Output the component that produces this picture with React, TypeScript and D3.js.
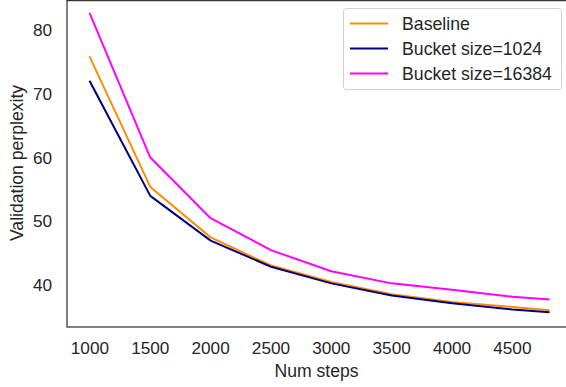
import React from "react";
import * as d3 from "d3";

const steps = [1000, 1500, 2000, 2500, 3000, 3500, 4000, 4500, 4800];
const baseline = [75.7, 55.4, 47.5, 43.1, 40.5, 38.6, 37.4, 36.6, 36.1];
const bucket1024 = [71.9, 54.0, 47.0, 42.9, 40.3, 38.4, 37.2, 36.2, 35.8];
const bucket16384 = [82.5, 60.0, 50.5, 45.5, 42.2, 40.3, 39.3, 38.2, 37.8];
const seriesNames = ["Baseline", "Bucket size=1024", "Bucket size=16384"];
const seriesColors = ["#ff8c00", "#000080", "#ff00ff"];
const xTicks = [1000, 1500, 2000, 2500, 3000, 3500, 4000, 4500];
const yTicks = [40, 50, 60, 70, 80];

const W = 566;
const H = 387;
const FONT = "'Liberation Sans', Arial, sans-serif";
const TXT = "#262626";

export default function App() {
  const left = 67, right = 571.5, top = -1, bottom = 327;
  const allY = [...baseline, ...bucket1024, ...bucket16384];
  const xmin = d3.min(steps)!, xmax = d3.max(steps)!;
  const ymin = d3.min(allY)!, ymax = d3.max(allY)!;
  const xp = (xmax - xmin) * 0.05;
  const yp = (ymax - ymin) * 0.05;
  const x = d3.scaleLinear().domain([xmin - xp, xmax + xp]).range([left, right]);
  const y = d3.scaleLinear().domain([ymin - yp, ymax + yp]).range([bottom, top]);
  const series = [baseline, bucket1024, bucket16384];
  const line = d3
    .line<number>()
    .x((_, i) => x(steps[i]))
    .y((d) => y(d));

  const legX = 343.5, legY = 8.5, legW = 218, legH = 81;
  const frameTop = 0.6;

  return (
    <svg
      width={W}
      height={H}
      style={{ position: "absolute", left: 0, top: 0, background: "#fff" }}
      fontFamily={FONT}
    >
      <rect x={0} y={0} width={W} height={H} fill="#fff" />
      {series.map((s, k) => (
        <path
          key={k}
          d={line(s) || ""}
          fill="none"
          stroke={seriesColors[k]}
          strokeWidth={2}
          strokeLinejoin="round"
          strokeLinecap="square"
        />
      ))}
      <rect
        x={left}
        y={frameTop}
        width={right - left}
        height={bottom - frameTop}
        fill="none"
        stroke="#333"
        strokeWidth={1.25}
      />
      {xTicks.map((t) => (
        <text
          key={t}
          x={x(t)}
          y={348}
          textAnchor="middle"
          dominantBaseline="central"
          fontSize={17.2}
          fill={TXT}
        >
          {t}
        </text>
      ))}
      {yTicks.map((t) => (
        <text
          key={t}
          x={52}
          y={y(t)}
          textAnchor="end"
          dominantBaseline="central"
          fontSize={17.2}
          fill={TXT}
        >
          {t}
        </text>
      ))}
      <text
        x={(left + 566) / 2}
        y={371}
        textAnchor="middle"
        dominantBaseline="central"
        fontSize={17.6}
        fill={TXT}
      >
        Num steps
      </text>
      <text
        transform={`translate(17,${(top + bottom) / 2}) rotate(-90)`}
        textAnchor="middle"
        dominantBaseline="central"
        fontSize={17.6}
        fill={TXT}
      >
        Validation perplexity
      </text>
      <rect
        x={legX}
        y={legY}
        width={legW}
        height={legH}
        rx={3}
        fill="#fff"
        fillOpacity={0.8}
        stroke="#d0d0d0"
        strokeWidth={1}
      />
      {seriesNames.map((n, k) => (
        <g key={n}>
          <line
            x1={350}
            x2={388}
            y1={23.5 + k * 25}
            y2={23.5 + k * 25}
            stroke={seriesColors[k]}
            strokeWidth={2}
          />
          <text
            x={402}
            y={23.5 + k * 25}
            dominantBaseline="central"
            fontSize={17.7}
            fill={TXT}
          >
            {n}
          </text>
        </g>
      ))}
    </svg>
  );
}
